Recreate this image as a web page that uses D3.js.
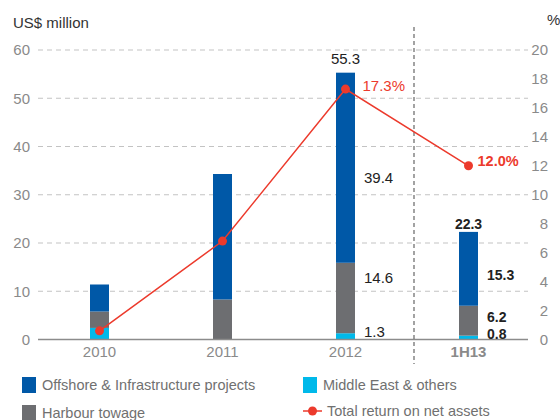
<!DOCTYPE html>
<html><head><meta charset="utf-8">
<script src="https://cdn.jsdelivr.net/npm/d3@7"></script>
<style>
body{margin:0;background:#fff;}
svg{display:block;font-family:"Liberation Sans",Arial,sans-serif;}
</style></head>
<body><svg id="c" width="560" height="420"></svg>
<script>
const categories = ["2010","2011","2012","1H13"];
const offshore   = [5.6, 26.0, 39.4, 15.3];
const harbour    = [3.4, 8.3, 14.6, 6.2];
const middleEast = [2.4, 0, 1.3, 0.8];
const returnPct  = [0.6, 6.8, 17.3, 12.0];
const leftTicks  = [0,10,20,30,40,50,60];
const rightTicks = [0,2,4,6,8,10,12,14,16,18,20];
// value labels: category, text, anchor value (left axis units), kind
const labelCats   = ["2012","2012","2012","2012","1H13","1H13","1H13","1H13"];
const labelTexts  = ["55.3","39.4","14.6","1.3","22.3","15.3","6.2","0.8"];
const labelAnchor = [57.2, 32.5, 11.7, 0.5, 23.0, 12.3, 3.7, 0.2];
const labelKind   = ["top","side","side","side","top","side","side","side"];

const colors = {offshore:"#0058A7", harbour:"#6D6E71", middleEast:"#00B9EA", line:"#EC3A2C"};

const svg = d3.select("#c");
const x = d3.scaleBand().domain(categories).range([38,530]);
const y = d3.scaleLinear().domain([0,60]).range([339.5,50]);
const y2 = d3.scaleLinear().domain([0,20]).range([339.5,50]);
const barW = 19;
const cx = c => x(c) + x.bandwidth()/2;

// gridlines
svg.append("g").selectAll("line").data(leftTicks.filter(d=>d>0)).join("line")
  .attr("x1",38).attr("x2",528).attr("y1",d=>y(d)).attr("y2",d=>y(d))
  .attr("stroke","#c3c3c3").attr("stroke-width",1).attr("stroke-dasharray","5,4");

// left axis labels
svg.append("g").selectAll("text").data(leftTicks).join("text")
  .attr("x",30).attr("y",d=>y(d)).attr("dy","0.36em").attr("text-anchor","end")
  .attr("font-size",15).attr("fill","#8a8a8a").text(d=>d);
// right axis labels
svg.append("g").selectAll("text").data(rightTicks).join("text")
  .attr("x",548).attr("y",d=>y2(d)).attr("dy","0.36em").attr("text-anchor","end")
  .attr("font-size",15).attr("fill","#8a8a8a").text(d=>d);

svg.append("text").attr("x",13).attr("y",28).attr("font-size",15).attr("fill","#333").text("US$ million");
svg.append("text").attr("x",547).attr("y",25).attr("font-size",15).attr("fill","#333").text("%");

// stacked bars
const rows = categories.map((c,i)=>({cat:c, middleEast:middleEast[i], harbour:harbour[i], offshore:offshore[i]}));
const stack = d3.stack().keys(["middleEast","harbour","offshore"])(rows);
svg.append("g").selectAll("g").data(stack).join("g").attr("fill",d=>colors[d.key])
  .selectAll("rect").data(d=>d).join("rect")
  .attr("x",d=>cx(d.data.cat)-barW/2).attr("width",barW)
  .attr("y",d=>y(d[1])).attr("height",d=>y(d[0])-y(d[1]));

// x axis line
svg.append("line").attr("x1",38).attr("x2",528).attr("y1",y(0)).attr("y2",y(0))
  .attr("stroke","#8c8c8c").attr("stroke-width",1.5);

// divider between 2012 and 1H13
svg.append("line").attr("x1",414).attr("x2",414).attr("y1",27).attr("y2",364)
  .attr("stroke","#666").attr("stroke-width",1.2).attr("stroke-dasharray","4,3");

// x labels
svg.append("g").selectAll("text").data(categories).join("text")
  .attr("x",d=>cx(d)).attr("y",357).attr("text-anchor","middle")
  .attr("font-size",15).attr("fill","#8a8a8a").attr("font-weight",d=>d==="1H13"?"bold":"normal").text(d=>d);

// line
const line = d3.line().x((d,i)=>cx(categories[i])).y(d=>y2(d));
svg.append("path").datum(returnPct).attr("d",line).attr("fill","none")
  .attr("stroke",colors.line).attr("stroke-width",1.5);
svg.append("g").selectAll("circle").data(returnPct).join("circle")
  .attr("cx",(d,i)=>cx(categories[i])).attr("cy",d=>y2(d)).attr("r",4.5).attr("fill",colors.line);

// pct labels
svg.append("text").attr("x",cx("2012")+17).attr("y",y2(returnPct[2])+2).attr("font-size",15)
  .attr("fill",colors.line).text(returnPct[2].toFixed(1)+"%");
svg.append("text").attr("x",cx("1H13")+9).attr("y",y2(returnPct[3])).attr("font-size",14.5)
  .attr("font-weight","bold").attr("fill",colors.line).text(returnPct[3].toFixed(1)+"%");

// value labels
labelTexts.forEach((t,i)=>{
  const c = labelCats[i];
  const top = labelKind[i]==="top";
  const bold = c==="1H13";
  svg.append("text")
    .attr("x", top ? cx(c) : cx(c)+barW/2+9)
    .attr("y", y(labelAnchor[i]))
    .attr("text-anchor", top ? "middle" : "start")
    .attr("font-size", bold ? 14 : 15).attr("fill","#222")
    .attr("font-weight", bold ? "bold" : "normal")
    .text(t);
});

// legend
const legend = [
  {label:"Offshore & Infrastructure projects", color:colors.offshore, col:0, row:0, type:"box"},
  {label:"Middle East & others", color:colors.middleEast, col:1, row:0, type:"box"},
  {label:"Harbour towage", color:colors.harbour, col:0, row:1, type:"box"},
  {label:"Total return on net assets", color:colors.line, col:1, row:1, type:"line"}
];
const lg = svg.append("g");
legend.forEach(l=>{
  const lx = l.col===0 ? 22 : 303;
  const ly = 377 + l.row*28;
  if(l.type==="box"){
    lg.append("rect").attr("x",lx).attr("y",ly).attr("width",14).attr("height",16).attr("fill",l.color);
    lg.append("text").attr("x",lx+20).attr("y",ly+12.5).attr("font-size",14.5).attr("fill","#707070").text(l.label);
  } else {
    lg.append("line").attr("x1",lx).attr("x2",lx+19).attr("y1",ly+6).attr("y2",ly+6).attr("stroke",l.color).attr("stroke-width",1.5);
    lg.append("circle").attr("cx",lx+9.5).attr("cy",ly+6).attr("r",4.5).attr("fill",l.color);
    lg.append("text").attr("x",lx+24).attr("y",ly+11).attr("font-size",14.5).attr("fill","#707070").text(l.label);
  }
});
</script></body></html>
